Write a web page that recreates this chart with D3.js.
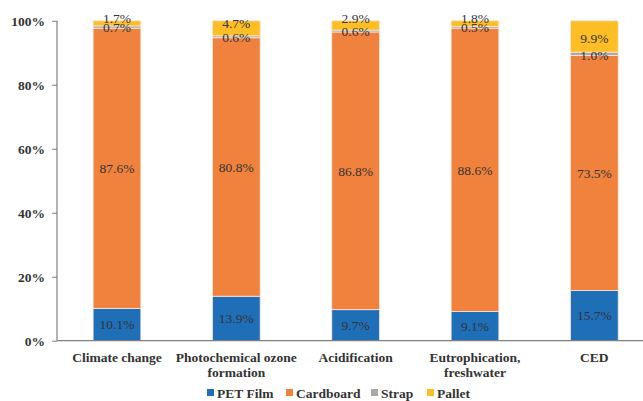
<!DOCTYPE html>
<html>
<head>
<meta charset="utf-8">
<script src="https://cdn.jsdelivr.net/npm/d3@7"></script>
<style>
  html, body { margin: 0; padding: 0; background: #fff; }
  svg { display: block; }
  svg text { font-family: "Liberation Serif", "Times New Roman", Times, "DejaVu Serif", serif; }
</style>
</head>
<body>
<svg id="chart" width="643" height="401"></svg>
<script>
// Impact categories along the x axis
const categories = [
  "Climate change",
  "Photochemical ozone formation",
  "Acidification",
  "Eutrophication, freshwater",
  "CED"
];
const categoryLines = [
  ["Climate change"],
  ["Photochemical ozone", "formation"],
  ["Acidification"],
  ["Eutrophication,", "freshwater"],
  ["CED"]
];

// Contribution (%) of each packaging component
const seriesNames = ["PET Film", "Cardboard", "Strap", "Pallet"];
const petFilm   = [10.1, 13.9, 9.7, 9.1, 15.7];
const cardboard = [87.6, 80.8, 86.8, 88.6, 73.5];
const strap     = [0.7, 0.6, 0.6, 0.5, 1.0];
const pallet    = [1.7, 4.7, 2.9, 1.8, 9.9];

const yTicks = [0, 20, 40, 60, 80, 100];
const colors = ["#1F6FB8", "#F0823E", "#A8A8A8", "#FDBE25"];

const rows = categories.map((c, i) => ({
  category: c,
  "PET Film": petFilm[i],
  "Cardboard": cardboard[i],
  "Strap": strap[i],
  "Pallet": pallet[i]
}));

const svg = d3.select("#chart");

const x = d3.scaleBand().domain(categories).range([57.3, 654]).paddingInner(0.6).paddingOuter(0.3);
const y = d3.scaleLinear().domain([0, 100]).range([340.7, 20.8]);
const color = d3.scaleOrdinal().domain(seriesNames).range(colors);

const stacked = d3.stack().keys(seriesNames)(rows);

// Bars
const layers = svg.append("g").selectAll("g")
  .data(stacked).join("g")
  .attr("fill", d => color(d.key));

layers.selectAll("rect")
  .data(d => d.map(v => ({ key: d.key, v })))
  .join("rect")
  .attr("x", d => x(d.v.data.category))
  .attr("width", x.bandwidth())
  .attr("y", d => y(Math.min(100, d.v[1])))
  .attr("height", d => Math.max(0, y(d.v[0]) - y(Math.min(100, d.v[1]))))
  .attr("stroke", "#fbe7dc")
  .attr("stroke-width", 0.8);

// Value labels; thin segments get their label nudged to the segment edge
const labelData = [];
stacked.forEach(layer => {
  layer.forEach(v => {
    const val = v.data[layer.key];
    const top = y(Math.min(100, v[1]));
    let cy = (y(v[0]) + top) / 2;
    if (layer.key === "Strap") cy = y(v[0]) - 0.5;
    if (layer.key === "Pallet") {
      if (val < 4) cy = top - 2.5;
      else if (val < 6) cy = top + 2;
      else cy = cy + 1.5;
    }
    labelData.push({ cat: v.data.category, val, cy });
  });
});

svg.append("g").selectAll("text")
  .data(labelData).join("text")
  .attr("x", d => x(d.cat) + x.bandwidth() / 2)
  .attr("y", d => d.cy)
  .attr("dy", "0.35em")
  .attr("text-anchor", "middle")
  .attr("font-size", 13.5)
  .attr("fill", "#333")
  .text(d => d.val.toFixed(1) + "%");

// Y axis
const yAxis = svg.append("g").attr("transform", "translate(57,0)")
  .call(d3.axisLeft(y).tickValues(yTicks).tickSize(5).tickFormat(d => d + "%"));
yAxis.attr("font-family", null);
yAxis.select(".domain").attr("stroke", "#7f7f7f").attr("stroke-width", 1.2).attr("d", `M0,${y(100)}V${y(0)}`);
yAxis.selectAll(".tick line").attr("stroke", "#7f7f7f");
yAxis.selectAll(".tick text")
  .attr("x", -12)
  .attr("font-weight", "bold")
  .attr("font-size", 13.5)
  .attr("fill", "#333");

// X axis baseline
svg.append("line")
  .attr("x1", 57).attr("x2", 643)
  .attr("y1", y(0)).attr("y2", y(0))
  .attr("stroke", "#7f7f7f").attr("stroke-width", 1.2);

// Category labels
const catG = svg.append("g");
categories.forEach((c, i) => {
  const t = catG.append("text")
    .attr("x", x(c) + x.bandwidth() / 2)
    .attr("y", 361.5)
    .attr("text-anchor", "middle")
    .attr("font-weight", "bold")
    .attr("font-size", 13.5)
    .attr("fill", "#333");
  categoryLines[i].forEach((line, j) => {
    t.append("tspan")
      .attr("x", x(c) + x.bandwidth() / 2)
      .attr("dy", j === 0 ? 0 : 15.5)
      .text(line);
  });
});

// Legend
const legendX = [207, 286, 371, 427];
const legend = svg.append("g");
seriesNames.forEach((s, i) => {
  legend.append("rect")
    .attr("x", legendX[i]).attr("y", 389)
    .attr("width", 7).attr("height", 7)
    .attr("fill", color(s));
  legend.append("text")
    .attr("x", legendX[i] + 10).attr("y", 397.5)
    .attr("font-weight", "bold")
    .attr("font-size", 13.5)
    .attr("fill", "#333")
    .text(s);
});
</script>
</body>
</html>
